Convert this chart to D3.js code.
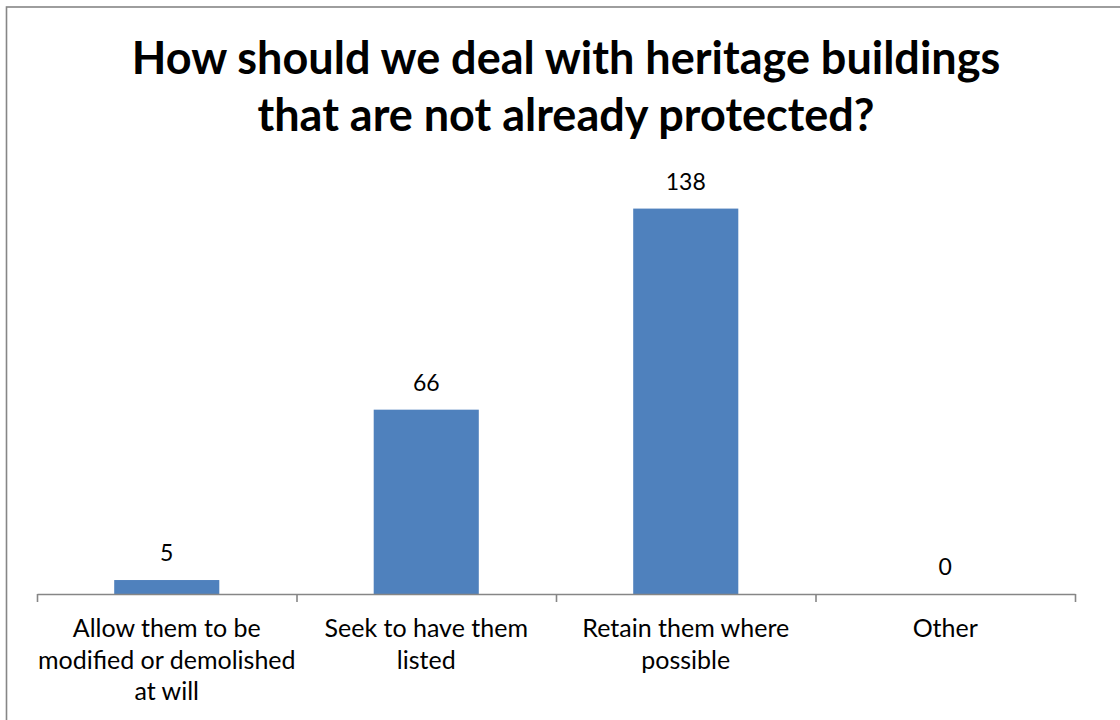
<!DOCTYPE html>
<html>
<head>
<meta charset="utf-8">
<script src="https://cdn.jsdelivr.net/npm/d3@7"></script>
<style>
  html, body { margin: 0; padding: 0; background: #fff; }
  svg { display: block; }
  text { font-family: Lato, "Open Sans", sans-serif; fill: #000; }
</style>
</head>
<body>
<svg id="chart" width="1120" height="720"></svg>
<script>
// Survey responses
const titleLines = ["How should we deal with heritage buildings", "that are not already protected?"];
const categories = [
  "Allow them to be\nmodified or demolished\nat will",
  "Seek to have them\nlisted",
  "Retain them where\npossible",
  "Other"
];
const responses = [5, 66, 138, 0];

const W = 1120, H = 720;
const svg = d3.select("#chart");

// Chart frame (runs off the right and bottom edges)
svg.append("rect")
  .attr("x", 6.5).attr("y", 7)
  .attr("width", W).attr("height", H)
  .attr("fill", "#fff")
  .attr("stroke", "#868686")
  .attr("stroke-width", 1.6);

// Title
const title = svg.append("text")
  .attr("text-anchor", "middle")
  .attr("font-weight", "bold")
  .attr("font-size", 45);
titleLines.forEach((t, i) => {
  title.append("tspan").attr("x", 566).attr("y", 74 + i * 57).text(t);
});

// Scales
const left = 37, right = 1075, baseY = 594;
const x = d3.scaleBand().domain(categories).range([left, right]).padding(0);
const xEdge = d3.scaleLinear().domain([0, categories.length]).range([left, right]);
const y = d3.scaleLinear().domain([0, 140]).range([baseY, 203]);
const barW = x.bandwidth() * 0.405;

// Bars
svg.append("g").selectAll("rect")
  .data(responses)
  .join("rect")
  .attr("x", (d, i) => x(categories[i]) + (x.bandwidth() - barW) / 2)
  .attr("y", d => y(d))
  .attr("width", barW)
  .attr("height", d => baseY - y(d))
  .attr("fill", "#4F81BD");

// Value labels
svg.append("g").selectAll("text")
  .data(responses)
  .join("text")
  .attr("x", (d, i) => x(categories[i]) + x.bandwidth() / 2)
  .attr("y", d => y(d) - 19)
  .attr("text-anchor", "middle")
  .attr("font-size", 23)
  .text(d => d);

// Category axis with tick marks between categories
const axis = svg.append("g")
  .attr("transform", `translate(0,${baseY})`)
  .call(d3.axisBottom(xEdge)
    .tickValues(d3.range(categories.length + 1))
    .tickFormat("")
    .tickSize(8)
    .tickSizeOuter(0));
axis.selectAll("path, line").attr("stroke", "#868686").attr("stroke-width", 1.6);

// Category labels
const labels = svg.append("g").selectAll("text")
  .data(categories)
  .join("text")
  .attr("text-anchor", "middle")
  .attr("font-size", 25);
labels.each(function(d) {
  const t = d3.select(this);
  d.split("\n").forEach((line, i) => {
    t.append("tspan")
      .attr("x", x(d) + x.bandwidth() / 2)
      .attr("y", 637 + i * 31.5)
      .text(line);
  });
});
</script>
</body>
</html>
